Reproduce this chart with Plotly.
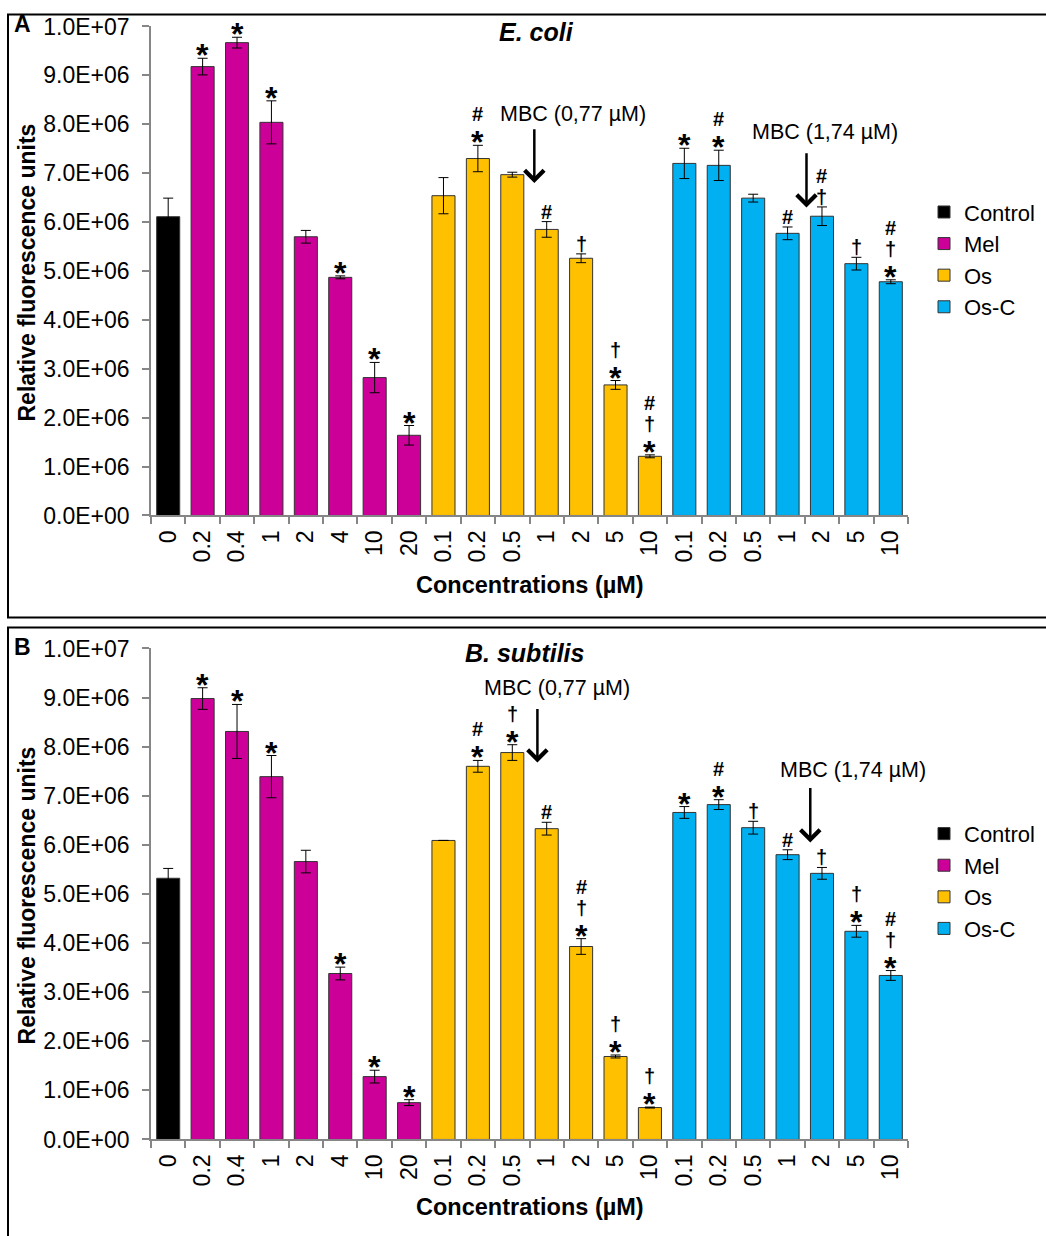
import plotly.graph_objects as go

W, H = 1046, 1236

# ---------------- data ----------------
categories = ["0", "0.2", "0.4", "1", "2", "4", "10", "20",
              "0.1", "0.2", "0.5", "1", "2", "5", "10",
              "0.1", "0.2", "0.5", "1", "2", "5", "10"]
series_names = ["Control", "Mel", "Os", "Os-C"]
series_index = [[0], [1, 2, 3, 4, 5, 6, 7], [8, 9, 10, 11, 12, 13, 14],
                [15, 16, 17, 18, 19, 20, 21]]
series_colors = ["#000000", "#CC0099", "#FFC000", "#00B0F0"]

# E. coli (panel A)
ecoli_control = [6.11e6]
ecoli_control_err = [0.38e6]
ecoli_mel = [9.18e6, 9.67e6, 8.04e6, 5.70e6, 4.87e6, 2.82e6, 1.64e6]
ecoli_mel_err = [0.17e6, 0.11e6, 0.44e6, 0.13e6, 0.03e6, 0.31e6, 0.20e6]
ecoli_os = [6.54e6, 7.30e6, 6.97e6, 5.85e6, 5.26e6, 2.67e6, 1.21e6]
ecoli_os_err = [0.37e6, 0.27e6, 0.05e6, 0.16e6, 0.09e6, 0.09e6, 0.03e6]
ecoli_osc = [7.20e6, 7.16e6, 6.49e6, 5.77e6, 6.12e6, 5.15e6, 4.78e6]
ecoli_osc_err = [0.31e6, 0.31e6, 0.08e6, 0.13e6, 0.19e6, 0.13e6, 0.04e6]
ecoli_marks = ["", "*", "*", "*", "", "*", "*", "*",
               "", "#*", "", "#", "†", "†*", "#†*",
               "*", "#*", "", "#", "#†", "†", "#†*"]

# B. subtilis (panel B)
bsub_control = [5.32e6]
bsub_control_err = [0.20e6]
bsub_mel = [8.98e6, 8.31e6, 7.39e6, 5.66e6, 3.38e6, 1.28e6, 0.75e6]
bsub_mel_err = [0.22e6, 0.55e6, 0.43e6, 0.23e6, 0.13e6, 0.13e6, 0.06e6]
bsub_os = [6.09e6, 7.60e6, 7.88e6, 6.33e6, 3.93e6, 1.69e6, 0.65e6]
bsub_os_err = [float("nan"), 0.12e6, 0.16e6, 0.13e6, 0.16e6, 0.03e6, 0.01e6]
bsub_osc = [6.66e6, 6.82e6, 6.35e6, 5.80e6, 5.42e6, 4.24e6, 3.34e6]
bsub_osc_err = [0.12e6, 0.10e6, 0.13e6, 0.10e6, 0.12e6, 0.12e6, 0.10e6]
bsub_marks = ["", "*", "*", "*", "", "*", "*", "*",
              "", "#*", "†*", "#", "#†*", "†*", "†*",
              "*", "#*", "†", "#", "†", "†*", "#†*"]

y_tickvals = [0, 1e6, 2e6, 3e6, 4e6, 5e6, 6e6, 7e6, 8e6, 9e6, 1e7]
y_ticktext = ["0.0E+00", "1.0E+06", "2.0E+06", "3.0E+06", "4.0E+06", "5.0E+06",
              "6.0E+06", "7.0E+06", "8.0E+06", "9.0E+06", "1.0E+07"]

FONT = "Arial, Liberation Sans, sans-serif"

# vertical calibration of the photographed page
VOFF, VSCALE = 12.5, 0.979


def px_x(x):
    return x / W


def px_y(y):
    f = (y - VOFF) / VSCALE
    return 1 - f / H


fig = go.Figure()

panels = [
    dict(xa="x", ya="y", legend="legend",
         vals=[ecoli_control, ecoli_mel, ecoli_os, ecoli_osc],
         errs=[ecoli_control_err, ecoli_mel_err, ecoli_os_err, ecoli_osc_err],
         marks=ecoli_marks),
    dict(xa="x2", ya="y2", legend="legend2",
         vals=[bsub_control, bsub_mel, bsub_os, bsub_osc],
         errs=[bsub_control_err, bsub_mel_err, bsub_os_err, bsub_osc_err],
         marks=bsub_marks),
]

annotations = []
for p in panels:
    tops = {}
    for name, idx, col, v, e in zip(series_names, series_index, series_colors, p["vals"], p["errs"]):
        fig.add_trace(go.Bar(
            x=idx, y=v, name=name, width=0.67,
            marker=dict(color=col, line=dict(color="#333333", width=1)),
            error_y=dict(type="data", array=e, visible=True, color="#000000", thickness=1, width=5),
            xaxis=p["xa"], yaxis=p["ya"], legend=p["legend"],
        ))
        for i, vv, ee in zip(idx, v, e):
            tops[i] = vv + (ee if ee == ee else 0)
    for i, m in enumerate(p["marks"]):
        for k, sym in enumerate(reversed(m)):
            center = 10 + 21 * k
            if sym == "*":
                shift, size = center - 7, 32
            else:
                shift, size = center, 20
            annotations.append(dict(
                x=i, y=tops[i], xref=p["xa"], yref=p["ya"], text="<b>%s</b>" % sym,
                showarrow=False, yanchor="middle", xanchor="center", yshift=shift,
                font=dict(family=FONT, size=size, color="#000000")))

# MBC arrows and labels
mbc = [
    # xref, yref, text x, text y, arrow x, tail y, head y, text
    ("x", "y", 11.77, 8.22e6, 10.64, 7.93e6, 6.80e6, "MBC (0,77 µM)"),
    ("x", "y", 19.08, 7.85e6, 18.55, 7.44e6, 6.30e6, "MBC (1,74 µM)"),
    ("x2", "y2", 11.29, 9.20e6, 10.73, 8.80e6, 7.68e6, "MBC (0,77 µM)"),
    ("x2", "y2", 19.90, 7.52e6, 18.66, 7.19e6, 6.05e6, "MBC (1,74 µM)"),
]
for xr, yr, tx, ty, axx, tail, head, txt in mbc:
    annotations.append(dict(x=tx, y=ty, xref=xr, yref=yr, text=txt, showarrow=False,
                            font=dict(family=FONT, size=21.5, color="#000000")))
    annotations.append(dict(x=axx, y=head, xref=xr, yref=yr, text="", showarrow=True,
                            ax=axx, ay=tail, axref=xr, ayref=yr,
                            arrowhead=4, arrowsize=1.5, arrowwidth=2.5, arrowcolor="#000000"))

# titles / labels (pixel placed)
for (lx, ly, txt, size) in [(22, 24, "<b>A</b>", 23), (22, 647, "<b>B</b>", 23),
                            (536, 32, "<b><i>E. coli</i></b>", 25),
                            (525, 653, "<b><i>B. subtilis</i></b>", 25),
                            (530, 585, "<b>Concentrations (µM)</b>", 23.5),
                            (530, 1207, "<b>Concentrations (µM)</b>", 23.5)]:
    annotations.append(dict(x=px_x(lx), y=px_y(ly), xref="paper", yref="paper", text=txt,
                            showarrow=False, xanchor="center", yanchor="middle",
                            font=dict(family=FONT, size=size, color="#000000")))
for cy in [272, 895]:
    annotations.append(dict(x=px_x(27), y=px_y(cy), xref="paper", yref="paper",
                            text="<b>Relative fluorescence units</b>", textangle=-90,
                            showarrow=False, xanchor="center", yanchor="middle",
                            font=dict(family=FONT, size=23, color="#000000")))

xdom = [px_x(151), px_x(908)]
ax_common = dict(showline=True, linecolor="#868686", linewidth=1.5, showgrid=False,
                 zeroline=False, ticks="outside", tickcolor="#868686", ticklen=7, tickwidth=1.5,
                 tickfont=dict(family=FONT, size=23, color="#000000"))
xcommon = dict(ax_common, tickvals=list(range(len(categories))), ticktext=categories,
               range=[-0.5, len(categories) - 0.5], ticks="", tickangle=-90,
               ticklabelstandoff=4,
               minor=dict(tickvals=[i - 0.5 for i in range(len(categories) + 1)],
                          ticks="outside", ticklen=7, tickcolor="#868686", tickwidth=1.5))
ycommon = dict(ax_common, tickvals=y_tickvals, ticktext=y_ticktext, range=[0, 1e7],
               ticklabelstandoff=8)

legend_font = dict(family=FONT, size=22, color="#000000")
fig.update_layout(
    width=W, height=H, margin=dict(l=0, r=0, t=0, b=0),
    paper_bgcolor="white", plot_bgcolor="white",
    barmode="overlay", font=dict(family=FONT, color="#000000"),
    xaxis=dict(xcommon, domain=xdom, anchor="y"),
    yaxis=dict(ycommon, domain=[px_y(515), px_y(26)], anchor="x"),
    xaxis2=dict(xcommon, domain=xdom, anchor="y2"),
    yaxis2=dict(ycommon, domain=[px_y(1139), px_y(648)], anchor="x2"),
    legend=dict(x=px_x(924), y=1 - 182 / H, xanchor="left", yanchor="top",
                font=legend_font, bgcolor="rgba(0,0,0,0)"),
    legend2=dict(x=px_x(924), y=1 - 817 / H, xanchor="left", yanchor="top",
                 font=legend_font, bgcolor="rgba(0,0,0,0)"),
    annotations=annotations,
    shapes=[
        dict(type="rect", xref="paper", yref="paper", x0=px_x(8), x1=1.02,
             y0=px_y(617), y1=1 - 1.5 / H, line=dict(color="#000000", width=2)),
        dict(type="rect", xref="paper", yref="paper", x0=px_x(8), x1=1.02,
             y0=-0.02, y1=px_y(627), line=dict(color="#000000", width=2)),
    ],
)

fig.write_html("out.html", config={"displayModeBar": False},
               post_script="document.body.style.margin='0px';document.body.style.overflow='hidden';")
